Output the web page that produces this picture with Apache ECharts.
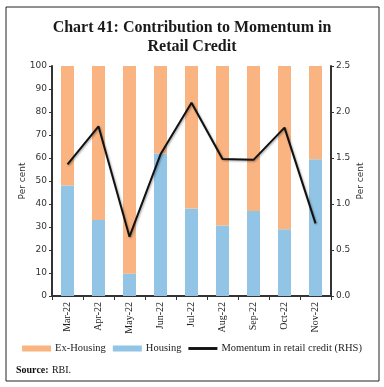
<!DOCTYPE html>
<html><head><meta charset="utf-8">
<script src="https://cdn.jsdelivr.net/npm/echarts@6/dist/echarts.min.js"></script>
<style>html,body{margin:0;padding:0;background:#fff}#c{width:384px;height:387px}</style>
</head><body><div id="c"></div>
<script>
var categories = ['Mar-22','Apr-22','May-22','Jun-22','Jul-22','Aug-22','Sep-22','Oct-22','Nov-22'];
var housing = [48, 33, 9.7, 62, 38, 30.6, 37, 29, 59.5];
var exHousing = [52, 67, 90.3, 38, 62, 69.4, 63, 71, 40.5];
var momentum = [1.43, 1.845, 0.645, 1.54, 2.10, 1.49, 1.48, 1.83, 0.79];
var leftTicks = [0, 10, 20, 30, 40, 50, 60, 70, 80, 90, 100];
var rightTicks = [0.0, 0.5, 1.0, 1.5, 2.0, 2.5];

var chart = echarts.init(document.getElementById('c'));
var axisFont = 'DejaVu Sans';
var serif = 'Liberation Serif';
chart.setOption({
  animation: false,
  title: {
    text: 'Chart 41: Contribution to Momentum in\nRetail Credit',
    left: 'center', top: 13,
    textStyle: {fontFamily: serif, fontWeight: 'bold', fontSize: 16, color: '#1a1a1a', lineHeight: 19}
  },
  graphic: [
    {type: 'rect', shape: {x: 6, y: 7, width: 373, height: 374}, style: {fill: 'none', stroke: '#222', lineWidth: 1}},
    {type: 'text', left: 16, top: 364, style: {rich: {b: {fontFamily: serif, fontWeight: 'bold', fontSize: 10, fill: '#111'}, n: {fontFamily: serif, fontSize: 10, fill: '#111'}}, text: '{b|Source:} {n|RBI.}'}}
  ],
  legend: {
    bottom: 28, left: 'center', itemGap: 7, itemWidth: 29, itemHeight: 6,
    textStyle: {fontFamily: serif, fontSize: 10.5, color: '#222', padding: [0,0,0,-1]},
    data: [
      {name: 'Ex-Housing', icon: 'rect'},
      {name: 'Housing', icon: 'rect'},
      {name: 'Momentum in retail credit (RHS)', icon: 'path://M0,0 L10,0 L10,1 L0,1 Z', itemStyle: {color: '#111'}}
    ]
  },
  grid: {left: 52, right: 53, top: 66, bottom: 91},
  xAxis: {
    type: 'category', data: categories,
    axisLine: {lineStyle: {color: '#333', width: 2}},
    axisTick: {show: true, length: 4, lineStyle: {color: '#333'}},
    axisLabel: {rotate: 90, fontFamily: serif, fontSize: 10, color: '#222', margin: 6}
  },
  yAxis: [
    {type: 'value', min: 0, max: 100, interval: 10, name: 'Per cent', nameLocation: 'middle', nameGap: 25, nameMoveOverlap: false,
     nameTextStyle: {fontFamily: axisFont, fontSize: 9, color: '#333'},
     axisLine: {show: true, lineStyle: {color: '#333', width: 2}},
     axisTick: {show: true, length: 3, lineStyle: {color: '#333'}},
     axisLabel: {fontFamily: axisFont, fontSize: 9, color: '#333', margin: 5},
     splitLine: {show: false}},
    {type: 'value', min: 0, max: 2.5, interval: 0.5, name: 'Per cent', nameLocation: 'middle', nameGap: 25, nameMoveOverlap: false,
     nameTextStyle: {fontFamily: axisFont, fontSize: 9, color: '#333'},
     axisLine: {show: true, lineStyle: {color: '#333', width: 2}},
     axisTick: {show: true, length: 3, lineStyle: {color: '#333'}},
     axisLabel: {fontFamily: axisFont, fontSize: 9, color: '#333', margin: 5, formatter: function(v){return v.toFixed(1);}},
     splitLine: {show: false}}
  ],
  series: [
    {name: 'Housing', type: 'bar', stack: 's', data: housing, barWidth: 13, itemStyle: {color: '#92C5E5'}},
    {name: 'Ex-Housing', type: 'bar', stack: 's', data: exHousing, barWidth: 13, itemStyle: {color: '#F9B482'}},
    {name: 'Momentum in retail credit (RHS)', type: 'line', yAxisIndex: 1, data: momentum, symbol: 'none',
     lineStyle: {color: '#111', width: 2, shadowColor: 'rgba(0,0,0,0.35)', shadowBlur: 2, shadowOffsetX: 1, shadowOffsetY: 1},
     itemStyle: {color: '#111'}}
  ]
});
</script></body></html>
